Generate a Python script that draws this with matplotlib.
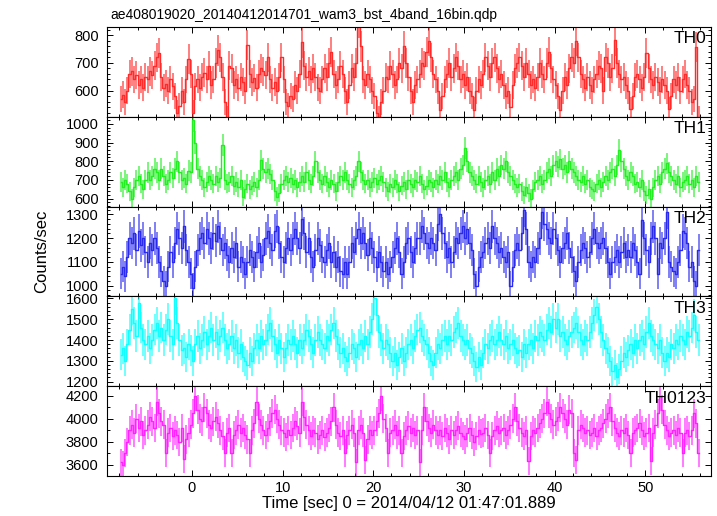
import numpy as np
import matplotlib.pyplot as plt
from matplotlib.ticker import MultipleLocator

plt.rcParams['font.family'] = ['Liberation Sans', 'DejaVu Sans']

# light curves, 0.25 s bins starting at t = -8 s (one row = one second)
dt = 0.25
t0 = -8.0

th0 = [570, 585, 560, 600,  660, 670, 640, 655,  620, 640, 610, 650,  640, 670, 655, 690,
       720, 735, 650, 610,  625, 600, 640, 615,  580, 520, 545, 600,  560, 640, 715, 660,
       520, 615, 640, 610,  650, 665, 640, 690,  620, 640, 700, 745,  720, 650, 560, 500,
       690, 680, 620, 640,  610, 650, 630, 600,  765, 660, 630, 645,  610, 660, 680, 670,
       655, 720, 640, 610,  630, 600, 650, 720,  640, 560, 545, 580,  570, 620, 600, 660,
       775, 690, 650, 670,  640, 680, 650, 610,  600, 640, 680, 650,  700, 740, 660, 620,
       640, 690, 660, 600,  560, 620, 680, 650,  700, 850, 760, 640,  620, 660, 640, 600,
       580, 520, 500, 560,  600, 650, 640, 690,  660, 620, 640, 700,  680, 760, 700, 650,
       600, 560, 620, 640,  660, 700, 690, 740,  780, 720, 660, 640,  600, 530, 580, 640,
       660, 700, 650, 680,  720, 690, 640, 660,  620, 650, 600, 580,  530, 600, 640, 620,
       660, 720, 690, 650,  700, 720, 680, 640,  660, 620, 580, 600,  540, 620, 680, 700,
       720, 690, 650, 700,  660, 620, 640, 610,  650, 700, 660, 640,  700, 740, 680, 640,
       620, 580, 530, 600,  650, 620, 680, 720,  700, 780, 720, 660,  640, 610, 650, 620,
       600, 640, 660, 690,  680, 600, 720, 700,  650, 680, 782, 700,  660, 640, 650, 620,
       600, 532, 580, 650,  660, 640, 610, 650,  737, 680, 640, 620,  650, 630, 600, 640,
       620, 600, 532, 580,  640, 620, 650, 600,  640, 660, 620, 600,  560, 570, 757, 500]

th1 = [690, 660, 700, 680,  640, 600, 660, 700,  720, 680, 650, 700,  740, 700, 720, 760,
       740, 700, 760, 720,  680, 700, 740, 710,  760, 800, 740, 700,  710, 680, 750, 740,
       1020, 900, 760, 720, 700, 660, 690, 720,  700, 680, 720, 690,  710, 886, 700, 680,
       690, 720, 670, 690,  660, 700, 610, 650,  680, 650, 670, 690,  660, 700, 805, 760,
       740, 760, 730, 700,  640, 610, 630, 680,  700, 720, 690, 710,  680, 700, 660, 690,
       720, 690, 740, 700,  680, 720, 800, 740,  700, 680, 720, 690,  660, 700, 680, 640,
       690, 720, 700, 740,  700, 680, 660, 700,  720, 800, 740, 700,  680, 700, 660, 690,
       710, 680, 700, 720,  690, 660, 640, 680,  660, 700, 680, 640,  670, 690, 650, 700,
       680, 660, 700, 690,  720, 680, 650, 670,  700, 690, 660, 700,  680, 720, 700, 740,
       690, 660, 700, 720,  740, 700, 760, 780,  870, 800, 740, 720,  700, 680, 720, 690,
       660, 700, 720, 680,  740, 700, 760, 720,  780, 760, 800, 740,  720, 700, 680, 660,
       680, 640, 620, 660,  630, 600, 650, 690,  700, 720, 680, 700,  740, 760, 720, 780,
       800, 770, 810, 760,  780, 740, 800, 760,  740, 720, 700, 690,  720, 680, 700, 660,
       650, 640, 680, 700,  660, 690, 720, 700,  740, 760, 720, 780,  860, 800, 760, 720,
       700, 740, 720, 680,  690, 660, 700, 640,  620, 650, 600, 660,  700, 720, 680, 740,
       760, 790, 740, 720,  700, 680, 720, 660,  690, 700, 720, 680,  700, 660, 720, 690]

th2 = [1050, 1080, 1040, 1120,  1200, 1180, 1220, 1150,  1230, 1170, 1200, 1140,  1100, 1180, 1150, 1200,
       1160, 1100, 1060, 1020,  1000, 1080, 1140, 1100,  1180, 1240, 1200, 1160,  1250, 1150, 1100, 1050,
       990, 1080, 1150, 1200,   1220, 1180, 1240, 1200,  1160, 1220, 1190, 1250,  1200, 1150, 1180, 1130,
       1100, 1160, 1120, 1180,  1080, 1120, 1100, 1050,  1100, 1150, 1120, 1080,  1140, 1180, 1100, 1130,
       1200, 1230, 1180, 1150,  1230, 1250, 1180, 1120,  1100, 1160, 1200, 1150,  1200, 1240, 1200, 1160,
       1280, 1220, 1140, 1200,  1120, 1080, 1150, 1200,  1170, 1120, 1100, 1150,  1180, 1100, 1140, 1080,
       1120, 1060, 1050, 1100,  1050, 1100, 1180, 1140,  1200, 1240, 1180, 1220,  1180, 1130, 1200, 1160,
       1120, 1080, 1140, 1100,  1060, 1100, 1050, 1080,  1120, 1160, 1200, 1140,  1050, 1100, 1180, 1200,
       1140, 1100, 1160, 1200,  1200, 1250, 1220, 1180,  1160, 1200, 1180, 1150,  1260, 1300, 1220, 1180,
       1120, 1160, 1100, 1140,  1200, 1180, 1220, 1250,  1200, 1240, 1180, 1150,  1050, 1000, 1080, 1120,
       1140, 1180, 1200, 1160,  1250, 1200, 1180, 1140,  1160, 1120, 1100, 1140,  1000, 1080, 1150, 1180,
       1150, 1220, 1320, 1240,  1100, 1080, 1120, 1100,  1160, 1200, 1310, 1260,  1240, 1200, 1180, 1240,
       1200, 1150, 1100, 1160,  1180, 1220, 1160, 1120,  1060, 1020, 1100, 1150,  1180, 1160, 1120, 1140,
       1200, 1240, 1180, 1160,  1180, 1200, 1160, 1100,  1050, 1100, 1120, 1150,  1100, 1140, 1180, 1120,
       1150, 1120, 1180, 1150,  1100, 1050, 1275, 1200,  1150, 1100, 1200, 1250,  1200, 1050, 1180, 1160,
       1200, 1310, 1100, 1080,  1060, 1050, 1100, 1150,  1230, 1220, 1180, 1080,  1100, 1020, 1000, 1150]

th3 = [1330, 1360, 1300, 1380,  1450, 1550, 1480, 1420,  1580, 1460, 1400, 1380,  1420, 1360, 1400, 1450,
       1480, 1420, 1460, 1400,  1450, 1500, 1420, 1380,  1600, 1480, 1400, 1350,  1360, 1320, 1380, 1350,
       1300, 1380, 1420, 1360,  1400, 1440, 1380, 1420,  1460, 1400, 1440, 1380,  1420, 1460, 1400, 1360,
       1380, 1420, 1360, 1400,  1340, 1380, 1320, 1300,  1280, 1340, 1300, 1360,  1400, 1360, 1420, 1380,
       1400, 1450, 1480, 1420,  1380, 1340, 1400, 1360,  1320, 1360, 1400, 1380,  1420, 1380, 1340, 1400,
       1360, 1400, 1450, 1420,  1380, 1340, 1400, 1440,  1400, 1380, 1360, 1420,  1400, 1450, 1480, 1420,
       1380, 1340, 1360, 1320,  1300, 1340, 1380, 1360,  1320, 1380, 1400, 1360,  1420, 1380, 1440, 1500,
       1600, 1520, 1440, 1400,  1360, 1400, 1380, 1340,  1300, 1340, 1280, 1320,  1360, 1300, 1340, 1380,
       1400, 1360, 1420, 1450,  1460, 1420, 1400, 1380,  1340, 1300, 1280, 1340,  1380, 1360, 1400, 1420,
       1380, 1420, 1400, 1440,  1460, 1480, 1420, 1400,  1380, 1400, 1360, 1340,  1300, 1270, 1320, 1280,
       1340, 1380, 1360, 1400,  1420, 1380, 1400, 1440,  1400, 1380, 1420, 1360,  1380, 1400, 1360, 1340,
       1350, 1320, 1380, 1340,  1380, 1400, 1360, 1420,  1400, 1440, 1420, 1400,  1450, 1480, 1440, 1500,
       1460, 1500, 1420, 1440,  1400, 1380, 1420, 1440,  1460, 1480, 1440, 1400,  1380, 1420, 1400, 1440,
       1480, 1520, 1560, 1500,  1440, 1400, 1360, 1340,  1300, 1250, 1280, 1220,  1260, 1300, 1340, 1320,
       1350, 1380, 1340, 1400,  1360, 1400, 1420, 1380,  1440, 1480, 1420, 1400,  1380, 1360, 1400, 1340,
       1300, 1340, 1320, 1380,  1360, 1400, 1380, 1420,  1400, 1380, 1440, 1420,  1460, 1520, 1440, 1400]

th0123 = [3620, 3600, 3700, 3800,  3900, 3950, 3880, 4000,  3920, 3980, 3860, 3900,  3950, 4020, 3980, 3920,
          4150, 4050, 3980, 3950,  3700, 3880, 3920, 3850,  3900, 3860, 3800, 3920,  3650, 3820, 3880, 3950,
          4050, 4200, 4080, 4000,  3980, 4100, 4050, 3950,  3920, 3980, 4020, 3960,  3900, 3850, 3700, 3880,
          3920, 3700, 3860, 3900,  3950, 3880, 3920, 3860,  3820, 3700, 3900, 3960,  4150, 4000, 3950, 3900,
          3860, 3920, 3980, 4050,  4080, 4000, 3950, 3900,  3880, 3840, 3900, 3860,  3920, 3980, 3940, 3880,
          4150, 4020, 3950, 3900,  3850, 3900, 3880, 3820,  3860, 3900, 3840, 3880,  3920, 3980, 4100, 3950,
          3880, 3850, 3900, 3700,  3860, 3900, 3950, 3880,  3620, 3900, 3950, 3880,  3640, 3820, 3900, 3860,
          3900, 3980, 4050, 4200,  4000, 3920, 3700, 3880,  3900, 3950, 3860, 3900,  3700, 3850, 3900, 3940,
          3880, 3920, 3860, 3900,  3620, 3900, 4100, 3980,  3920, 3880, 3950, 3900,  3860, 3900, 3850, 3920,
          3880, 3820, 3900, 3860,  3900, 3940, 3880, 3850,  3820, 3880, 3920, 3860,  3800, 3850, 3900, 3870,
          3880, 3920, 3860, 3700,  3850, 3900, 3940, 3880,  3900, 3920, 3860, 3900,  3950, 4000, 4100, 3980,
          3920, 3880, 3850, 3900,  3630, 3850, 3900, 3880,  3920, 3960, 4000, 4050,  4150, 4050, 4000, 3950,
          3980, 4020, 4100, 4050,  4000, 3950, 4080, 4050,  3700, 3640, 3900, 3950,  3920, 3880, 3900, 3860,
          3880, 3920, 3850, 3900,  3920, 3960, 4000, 4050,  4100, 3980, 3920, 3880,  3850, 3900, 3880, 3920,
          3860, 3700, 3880, 3900,  3920, 3960, 3900, 3850,  3880, 3920, 3630, 3880,  3950, 4050, 4200, 4080,
          3950, 3900, 3850, 3880,  3900, 3860, 3920, 3880,  3700, 3880, 3900, 3850,  3900, 4050, 3960, 3700]

labels = ['TH0', 'TH1', 'TH2', 'TH3', 'TH0123']
colors = ['#ff2a2a', '#22ee22', '#2a2aee', '#11ffff', '#ff22ff']
ylims = [(505, 830), (557, 1038), (955, 1333), (1178, 1610), (3500, 4285)]
ymajor = [100, 100, 100, 100, 200]
yminor = [20, 20, 20, 20, 100]

fig = plt.figure(figsize=(7.17, 5.16), dpi=100)
left, right = 107 / 717, 711 / 717
top, bottom = 1 - 27 / 516, 1 - 476 / 516
h = (top - bottom) / 5

for i, rate in enumerate([th0, th1, th2, th3, th0123]):
    rate = np.array(rate, dtype=float)
    t = t0 + dt / 2 + dt * np.arange(len(rate))
    err = np.sqrt(rate * dt) / dt   # poisson error of the binned counts
    ax = fig.add_axes([left, top - (i + 1) * h, right - left, h])
    ax.errorbar(t, rate, yerr=err, fmt='none', ecolor=colors[i], elinewidth=1.4, alpha=0.6)
    ax.step(t, rate, where='mid', color=colors[i], lw=1.0)
    ax.set_xlim(-9.37, 57.25)
    ax.set_ylim(*ylims[i])
    ax.xaxis.set_major_locator(MultipleLocator(10))
    ax.xaxis.set_minor_locator(MultipleLocator(2))
    ax.yaxis.set_major_locator(MultipleLocator(ymajor[i]))
    ax.yaxis.set_minor_locator(MultipleLocator(yminor[i]))
    ax.tick_params(which='both', direction='in', top=True, right=True, labelsize=10.5, width=0.7)
    ax.tick_params(which='major', length=4)
    ax.tick_params(which='minor', length=2)
    ax.tick_params(axis='y', pad=6)
    for s in ax.spines.values():
        s.set_linewidth(0.8)
    if i < 4:
        ax.tick_params(labelbottom=False)
    ax.text(0.992, 0.95, labels[i], transform=ax.transAxes, ha='right', va='top', fontsize=12.5)
    if i == 4:
        ax.set_xlabel('Time [sec] 0 = 2014/04/12 01:47:01.889', fontsize=12, labelpad=1)

fig.text(110 / 717, 1 - 15 / 516, 'ae408019020_20140412014701_wam3_bst_4band_16bin.qdp',
         ha='left', va='center', fontsize=10)
fig.text(42 / 717, (top + bottom) / 2, 'Counts/sec', rotation=90, ha='center', va='center', fontsize=12)

fig.savefig('out.png', dpi=100)
